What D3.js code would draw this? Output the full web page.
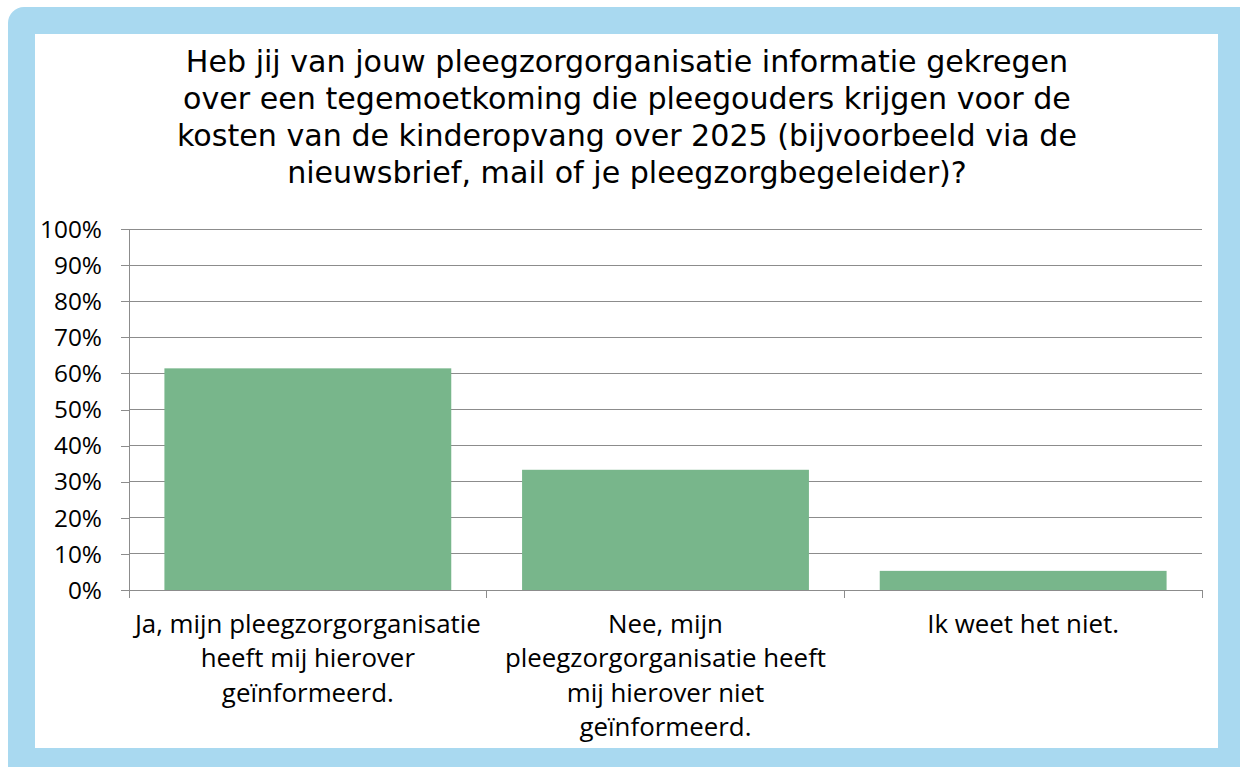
<!DOCTYPE html>
<html><head><meta charset="utf-8">
<script src="https://cdn.jsdelivr.net/npm/d3@7"></script>
<style>html,body{margin:0;padding:0;background:#fff;}svg{display:block;}</style>
</head><body>
<svg id="c" width="1240" height="767"></svg>
<script>
const titleLines = [
  "Heb jij van jouw pleegzorgorganisatie informatie gekregen",
  "over een tegemoetkoming die pleegouders krijgen voor de",
  "kosten van de kinderopvang over 2025 (bijvoorbeeld via de",
  "nieuwsbrief, mail of je pleegzorgbegeleider)?"
];
const categories = ["ja", "nee", "weet"];
const categoryLabels = [
  ["Ja, mijn pleegzorgorganisatie", "heeft mij hierover", "geïnformeerd."],
  ["Nee, mijn", "pleegzorgorganisatie heeft", "mij hierover niet", "geïnformeerd."],
  ["Ik weet het niet."]
];
const values = [0.614, 0.333, 0.053];
const yTicks = [0, 0.1, 0.2, 0.3, 0.4, 0.5, 0.6, 0.7, 0.8, 0.9, 1.0];

const svg = d3.select("#c");
// fit font size so a string reaches a target width
function fitSize(font, str, target, base) {
  const t = svg.append("text").style("font-family", font).style("font-size", base + "px").text(str);
  const w = t.node().getComputedTextLength();
  t.remove();
  return base * target / w;
}

// frame
svg.append("rect").attr("x", 8).attr("y", 7).attr("width", 1250).attr("height", 780)
  .attr("rx", 16).attr("fill", "#a9d9f0");
svg.append("rect").attr("x", 35).attr("y", 34).attr("width", 1183).attr("height", 714)
  .attr("fill", "#ffffff");

const L = 129, R = 1202, T = 229, B = 590;
const x = d3.scaleBand().domain(categories).range([L, R]).paddingInner(0).paddingOuter(0);
const y = d3.scaleLinear().domain([0, 1]).range([B, T]);
const gridColor = "#8c8c8c";

// gridlines
svg.append("g").selectAll("line").data(yTicks.filter(d => d > 0)).join("line")
  .attr("x1", L).attr("x2", R).attr("y1", d => y(d)).attr("y2", d => y(d))
  .attr("stroke", gridColor).attr("stroke-width", 1).attr("shape-rendering", "crispEdges");

// bars
const bw = x.bandwidth();
svg.append("g").selectAll("rect").data(values).join("rect")
  .attr("x", (d, i) => x(categories[i]) + bw * 0.099)
  .attr("width", bw * 0.802)
  .attr("y", d => y(d)).attr("height", d => B - y(d))
  .attr("fill", "#78b68b");

const labelFont = "'Open Sans', 'Noto Sans', sans-serif";
const tickSize = fitSize(labelFont, "100%", 62, 20);

// y axis
const yAxis = d3.axisLeft(y).tickValues(yTicks).tickFormat(d3.format(".0%")).tickSize(8).tickPadding(19);
const gy = svg.append("g").attr("transform", `translate(${L},0)`).call(yAxis);
gy.select(".domain").attr("stroke", gridColor).attr("shape-rendering", "crispEdges");
gy.selectAll(".tick line").attr("stroke", gridColor).attr("shape-rendering", "crispEdges");
gy.selectAll(".tick text").attr("fill", "#000").style("font-family", labelFont)
  .style("font-size", tickSize + "px").attr("dy", "0.34em");

// x axis (tick at category boundaries)
const gx = svg.append("g").attr("transform", `translate(0,${B})`);
gx.append("line").attr("x1", L).attr("x2", R).attr("y1", 0).attr("y2", 0)
  .attr("stroke", gridColor).attr("shape-rendering", "crispEdges");
const bounds = categories.map(c => x(c)).concat([R]);
gx.selectAll("line.t").data(bounds).join("line").attr("class", "t")
  .attr("x1", d => d).attr("x2", d => d).attr("y1", 0).attr("y2", 8)
  .attr("stroke", gridColor).attr("shape-rendering", "crispEdges");

// x labels
const xSize = fitSize(labelFont, categoryLabels[0][0], 346, 22);
const xl = svg.append("g");
categoryLabels.forEach((lines, i) => {
  const cx = x(categories[i]) + bw / 2;
  const t = xl.append("text").attr("text-anchor", "middle")
    .style("font-family", labelFont).style("font-size", xSize + "px").attr("fill", "#000");
  lines.forEach((ln, j) => {
    t.append("tspan").attr("x", cx).attr("y", 633 + j * 34.3).text(ln);
  });
});

// title
const titleFont = "'DejaVu Sans', 'Noto Sans', sans-serif";
const tSize = fitSize(titleFont, titleLines[0], 883, 26);
const tt = svg.append("text").attr("text-anchor", "middle")
  .style("font-family", titleFont).style("font-size", tSize + "px").attr("fill", "#000");
titleLines.forEach((ln, j) => {
  tt.append("tspan").attr("x", 627).attr("y", 72 + j * 36.9).text(ln);
});
</script>
</body></html>
